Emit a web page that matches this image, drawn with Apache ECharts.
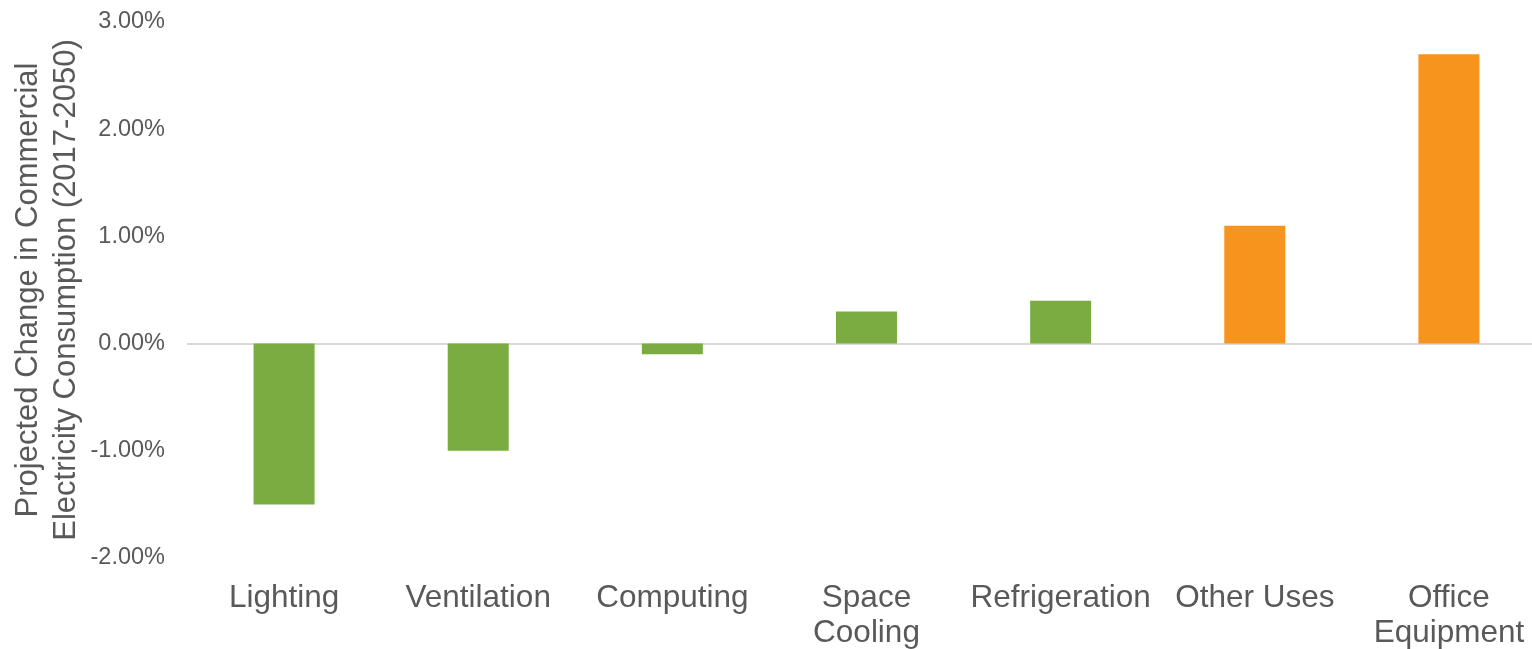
<!DOCTYPE html>
<html>
<head>
<meta charset="utf-8">
<title>Projected Change in Commercial Electricity Consumption</title>
<script src="https://cdn.jsdelivr.net/npm/echarts@6/dist/echarts.min.js"></script>
<style>
  html, body { margin: 0; padding: 0; background: #ffffff; }
  #chart { width: 1532px; height: 649px; }
</style>
</head>
<body>
<div id="chart"></div>
<script>
// End uses of commercial electricity
const categories = ['Lighting', 'Ventilation', 'Computing', 'Space Cooling', 'Refrigeration', 'Other Uses', 'Office Equipment'];
// Axis labels shown under each bar (long names wrap onto two lines)
const categoryLabels = ['Lighting', 'Ventilation', 'Computing', 'Space\nCooling', 'Refrigeration', 'Other Uses', 'Office\nEquipment'];
// Projected change, percent (2017-2050)
const changePct = [-1.5, -1.0, -0.1, 0.3, 0.4, 1.1, 2.7];
// End uses drawn in the accent colour
const accented = ['Other Uses', 'Office Equipment'];
// Value axis ticks, percent
const yTicks = { min: -2, max: 3, step: 1 };

const GREEN = '#7AAC42';
const ORANGE = '#F7941E';
const TEXT = '#595959';
const FONT = '"Liberation Sans", Arial, sans-serif';

const chart = echarts.init(document.getElementById('chart'), null, { renderer: 'canvas' });

chart.setOption({
  backgroundColor: '#ffffff',
  animation: false,
  // the plot runs slightly past the right edge of the canvas
  grid: { left: 187, top: 22, width: 1359, height: 536, containLabel: false, outerBoundsMode: 'none' },
  xAxis: {
    type: 'category',
    data: categories,
    axisLine: { show: false, onZero: false },
    axisTick: { show: false },
    splitLine: { show: false },
    axisLabel: {
      interval: 0,
      margin: 23,
      color: TEXT,
      fontFamily: FONT,
      fontSize: 31.5,
      lineHeight: 35,
      align: 'center',
      formatter: (v, i) => categoryLabels[i]
    }
  },
  yAxis: {
    type: 'value',
    min: yTicks.min,
    max: yTicks.max,
    interval: yTicks.step,
    name: 'Projected Change in Commercial\nElectricity Consumption (2017-2050)',
    nameLocation: 'middle',
    nameGap: 102,
    nameMoveOverlap: false,
    nameTextStyle: { color: TEXT, fontFamily: FONT, fontSize: 31, lineHeight: 38, align: 'center' },
    axisLine: { show: false },
    axisTick: { show: false },
    splitLine: { show: false },
    axisLabel: {
      margin: 22,
      color: TEXT,
      fontFamily: FONT,
      fontSize: 23.5,
      formatter: v => v.toFixed(2) + '%'
    }
  },
  series: [{
    type: 'bar',
    data: changePct,
    barWidth: 61,
    itemStyle: {
      color: p => accented.includes(p.name) ? ORANGE : GREEN
    },
    markLine: {
      silent: true,
      symbol: ['none', 'none'],
      label: { show: false },
      lineStyle: { color: '#D9D9D9', width: 2, type: 'solid' },
      data: [{ yAxis: 0 }],
      z: 1
    },
    z: 2
  }]
});
</script>
</body>
</html>
